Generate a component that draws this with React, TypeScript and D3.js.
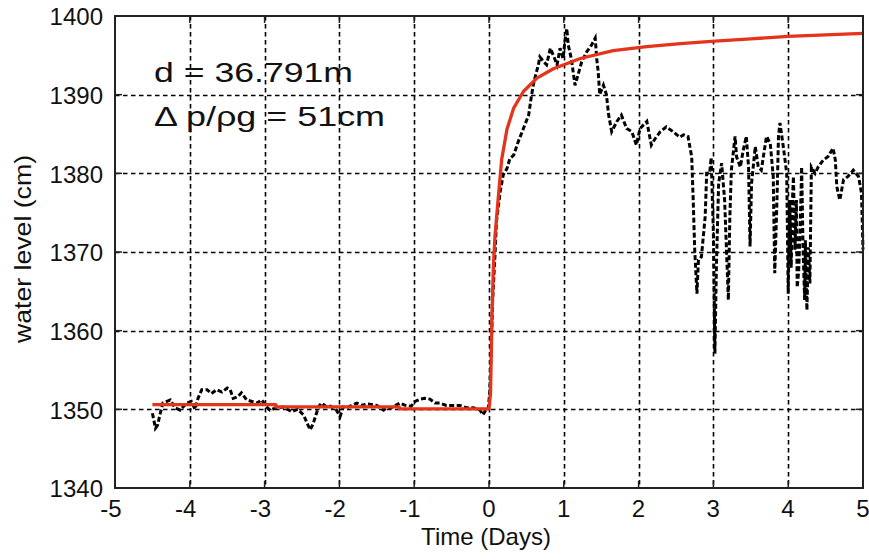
import React, { useEffect, useRef } from 'react';
import * as d3 from 'd3';

// observed water level (dashed black)
const obsTime = [
  -4.5, -4.48, -4.46, -4.43, -4.4, -4.36, -4.26, -4.2, -4.13, -4.04, -3.98, -3.93, -3.89, -3.84,
  -3.77, -3.71, -3.64, -3.57, -3.5, -3.46, -3.42, -3.36, -3.31, -3.24, -3.17, -3.1, -3.04, -2.97,
  -2.93, -2.84, -2.75, -2.64, -2.56, -2.48, -2.42, -2.39, -2.35, -2.28, -2.24, -2.17, -2.12, -2.04,
  -1.99, -1.95, -1.9, -1.77, -1.7, -1.64, -1.5, -1.41, -1.37, -1.31, -1.19, -1.12, -1.04, -0.99,
  -0.92, -0.86, -0.79, -0.72, -0.66, -0.57, -0.48, -0.39, -0.3, -0.21, -0.12, -0.08, -0.03, -0.01,
  0.01, 0.03, 0.05, 0.08, 0.1, 0.15, 0.19, 0.24, 0.28, 0.33, 0.39, 0.46, 0.53, 0.57, 0.6, 0.66,
  0.68, 0.73, 0.77, 0.82, 0.86, 0.91, 0.95, 0.99, 1.02, 1.04, 1.06, 1.1, 1.15, 1.19, 1.24, 1.31,
  1.37, 1.42, 1.44, 1.46, 1.48, 1.53, 1.57, 1.6, 1.64, 1.71, 1.77, 1.84, 1.91, 1.97, 2.02, 2.11,
  2.17, 2.22, 2.29, 2.37, 2.46, 2.55, 2.6, 2.66, 2.71, 2.73, 2.75, 2.78, 2.8, 2.84, 2.89, 2.91,
  2.95, 2.97, 3.0, 3.02, 3.04, 3.07, 3.11, 3.15, 3.2, 3.22, 3.24, 3.29, 3.31, 3.36, 3.4, 3.44,
  3.47, 3.49, 3.51, 3.56, 3.6, 3.64, 3.71, 3.76, 3.8, 3.82, 3.85, 3.87, 3.89, 3.94, 3.98, 4.0,
  4.02, 4.04, 4.06, 4.07, 4.09, 4.11, 4.12, 4.14, 4.16, 4.18, 4.2, 4.22, 4.23, 4.25, 4.27, 4.29,
  4.31, 4.36, 4.4, 4.47, 4.53,
  4.6, 4.63, 4.65, 4.69, 4.74, 4.8, 4.87, 4.94, 4.98, 5.0,
];
const obsLevel = [
  1349.5, 1348.6, 1347.6, 1348.0, 1349.3, 1350.8, 1351.2, 1350.2, 1349.9, 1350.8, 1351.0, 1350.0, 1351.4, 1352.5,
  1352.5, 1352.0, 1352.5, 1352.2, 1352.7, 1352.5, 1351.4, 1351.6, 1352.1, 1351.2, 1351.0, 1350.8, 1351.2, 1350.3,
  1349.9, 1350.2, 1350.3, 1349.7, 1350.0, 1349.3, 1348.0, 1347.4, 1348.2, 1350.3, 1350.8, 1350.3, 1350.4, 1349.9,
  1349.1, 1350.3, 1350.2, 1350.8, 1350.5, 1350.7, 1350.5, 1349.9, 1350.2, 1350.2, 1350.8, 1350.5, 1350.4, 1351.0,
  1351.3, 1351.4, 1351.3, 1350.8, 1350.8, 1350.5, 1350.5, 1350.5, 1350.2, 1350.2, 1349.9, 1349.3, 1350.1, 1350.1,
  1352.2, 1357.8, 1364.1, 1369.6, 1373.9, 1377.7, 1379.8, 1380.6, 1381.9, 1382.3, 1384.0, 1385.7, 1387.4, 1390.0, 1391.6, 1393.8,
  1394.8, 1394.2, 1393.8, 1395.9, 1395.0, 1393.8, 1395.9, 1394.6, 1397.2, 1398.4, 1396.3, 1394.6, 1391.2, 1392.5, 1394.2, 1395.5,
  1396.3, 1397.2, 1394.6, 1392.9, 1390.0, 1391.2, 1390.0, 1387.4, 1385.3, 1386.6, 1387.4, 1385.7, 1385.3, 1383.6, 1385.7, 1386.6,
  1383.6, 1384.4, 1385.3, 1385.9, 1385.3, 1384.6, 1384.9, 1384.7, 1382.1, 1376.6, 1370.3, 1364.7, 1369.0, 1369.4, 1374.5, 1380.0,
  1380.0, 1382.0, 1372.4, 1357.1, 1368.1, 1378.7, 1381.3, 1376.6, 1363.9, 1374.5, 1380.4, 1384.7, 1382.1, 1380.8, 1383.0, 1384.7,
  1380.8, 1370.7, 1378.7, 1383.4, 1380.8, 1380.4, 1384.7, 1383.8, 1379.6, 1367.3, 1376.6, 1384.7, 1386.4, 1383.0, 1380.0, 1364.7,
  1376.6, 1368.0, 1377.5, 1379.6, 1370.3, 1376.6, 1365.5, 1367.5, 1373.2, 1380.8, 1369.9, 1363.9, 1371.5, 1362.6, 1370.6, 1366.0,
  1380.8, 1380.0, 1380.8, 1381.7, 1382.1,
  1383.2, 1381.7, 1378.3, 1376.6, 1379.2, 1379.6, 1380.4, 1379.6, 1377.5, 1370.3,
];

// model fit (red)
const fitTime = [
  -4.5, -2.85, -2.85, -1.2, -1.2, 0.0, 0.02, 0.04, 0.06, 0.08, 0.125, 0.17, 0.24, 0.33, 0.46,
  0.64, 0.86, 1.22, 1.66, 2.11, 2.56, 3.02, 3.5, 4.0, 4.5, 5.0,
];
const fitLevel = [
  1350.6, 1350.6, 1350.3, 1350.3, 1350.05, 1350.05, 1352, 1362, 1368.5, 1372, 1377, 1381.8, 1385.6, 1388.3, 1390.4,
  1392.1, 1393.3, 1394.6, 1395.6, 1396.1, 1396.5, 1396.8, 1397.1, 1397.4, 1397.6, 1397.8,
];

const xTicks = [-5, -4, -3, -2, -1, 0, 1, 2, 3, 4, 5];
const yTicks = [1340, 1350, 1360, 1370, 1380, 1390, 1400];

const FONT = '"Liberation Sans", Arial, sans-serif';

function App() {
  const svgRef = useRef<SVGSVGElement>(null);

  useEffect(() => {
    const svg = d3.select(svgRef.current);
    svg.selectAll('*').remove();

    const left = 115, right = 863, top = 16, bottom = 488;
    const x = d3.scaleLinear().domain([-5, 5]).range([left, right]);
    const y = d3.scaleLinear().domain([1340, 1400]).range([bottom, top]);

    svg.append('rect').attr('width', 869).attr('height', 560).attr('fill', '#fff');

    // grid
    const grid = svg.append('g').attr('stroke', '#000').attr('stroke-width', 1.6).attr('stroke-dasharray', '4.5,3.5');
    grid.selectAll('.gx')
      .data(xTicks.slice(1, -1))
      .enter()
      .append('line')
      .attr('x1', (d) => Math.round(x(d)) + 0.5).attr('x2', (d) => Math.round(x(d)) + 0.5)
      .attr('y1', top).attr('y2', bottom);
    grid.selectAll('.gy')
      .data(yTicks.slice(1, -1))
      .enter()
      .append('line')
      .attr('x1', left).attr('x2', right)
      .attr('y1', (d) => Math.round(y(d)) + 0.5).attr('y2', (d) => Math.round(y(d)) + 0.5);

    // observed
    const obs = obsTime.map((t, i) => [t, obsLevel[i]] as [number, number]);
    svg.append('path')
      .datum(obs)
      .attr('fill', 'none')
      .attr('stroke', '#000')
      .attr('stroke-width', 3)
      .attr('stroke-dasharray', '5,2.5')
      .attr('d', d3.line<[number, number]>().x((d) => x(d[0])).y((d) => y(d[1])));

    // fit
    const fit = fitTime.map((t, i) => [t, fitLevel[i]] as [number, number]);
    svg.append('path')
      .datum(fit)
      .attr('fill', 'none')
      .attr('stroke', '#e4341c')
      .attr('stroke-width', 3.3)
      .attr('stroke-linejoin', 'round')
      .attr('d', d3.line<[number, number]>().x((d) => x(d[0])).y((d) => y(d[1])));

    // box + inward ticks
    svg.append('rect')
      .attr('x', left).attr('y', top)
      .attr('width', right - left).attr('height', bottom - top)
      .attr('fill', 'none').attr('stroke', '#222').attr('stroke-width', 2);
    const tk = svg.append('g').attr('stroke', '#222').attr('stroke-width', 1.5);
    xTicks.forEach((t) => {
      tk.append('line').attr('x1', x(t)).attr('x2', x(t)).attr('y1', bottom).attr('y2', bottom - 7);
      tk.append('line').attr('x1', x(t)).attr('x2', x(t)).attr('y1', top).attr('y2', top + 7);
    });
    yTicks.forEach((v) => {
      tk.append('line').attr('x1', left).attr('x2', left + 7).attr('y1', y(v)).attr('y2', y(v));
      tk.append('line').attr('x1', right).attr('x2', right - 7).attr('y1', y(v)).attr('y2', y(v));
    });

    // tick labels
    const fmt = (d: number) => String(d);
    svg.append('g')
      .selectAll('text')
      .data(xTicks)
      .enter()
      .append('text')
      .attr('x', (d) => x(d) + 6.5)
      .attr('y', 517)
      .attr('text-anchor', 'end')
      .attr('font-family', FONT)
      .attr('font-size', 24)
      .attr('fill', '#111')
      .text(fmt);
    svg.append('g')
      .selectAll('text')
      .data(yTicks)
      .enter()
      .append('text')
      .attr('x', 103)
      .attr('y', (d) => y(d) + 1)
      .attr('dy', '0.35em')
      .attr('text-anchor', 'end')
      .attr('font-family', FONT)
      .attr('font-size', 24)
      .attr('fill', '#111')
      .text(fmt);

    // axis titles
    svg.append('text')
      .attr('x', 486).attr('y', 545)
      .attr('text-anchor', 'middle')
      .attr('font-family', FONT).attr('font-size', 24).attr('fill', '#111')
      .text('Time (Days)');
    svg.append('text')
      .attr('transform', 'translate(31,249) rotate(-90)')
      .attr('text-anchor', 'middle')
      .attr('font-family', FONT).attr('font-size', 24).attr('fill', '#111')
      .attr('textLength', 188).attr('lengthAdjust', 'spacingAndGlyphs')
      .text('water level (cm)');

    // annotation
    svg.append('text')
      .attr('x', 154).attr('y', 82)
      .attr('font-family', FONT).attr('font-size', 28).attr('fill', '#111')
      .attr('textLength', 199).attr('lengthAdjust', 'spacingAndGlyphs')
      .text('d = 36.791m');
    svg.append('text')
      .attr('x', 154).attr('y', 126)
      .attr('font-family', FONT).attr('font-size', 28).attr('fill', '#111')
      .attr('textLength', 231).attr('lengthAdjust', 'spacingAndGlyphs')
      .text('Δ p/ρg = 51cm');
  }, []);

  return (
    <svg
      ref={svgRef}
      width={869}
      height={560}
      style={{ position: 'absolute', left: 0, top: 0, display: 'block' }}
    />
  );
}

export default App;
